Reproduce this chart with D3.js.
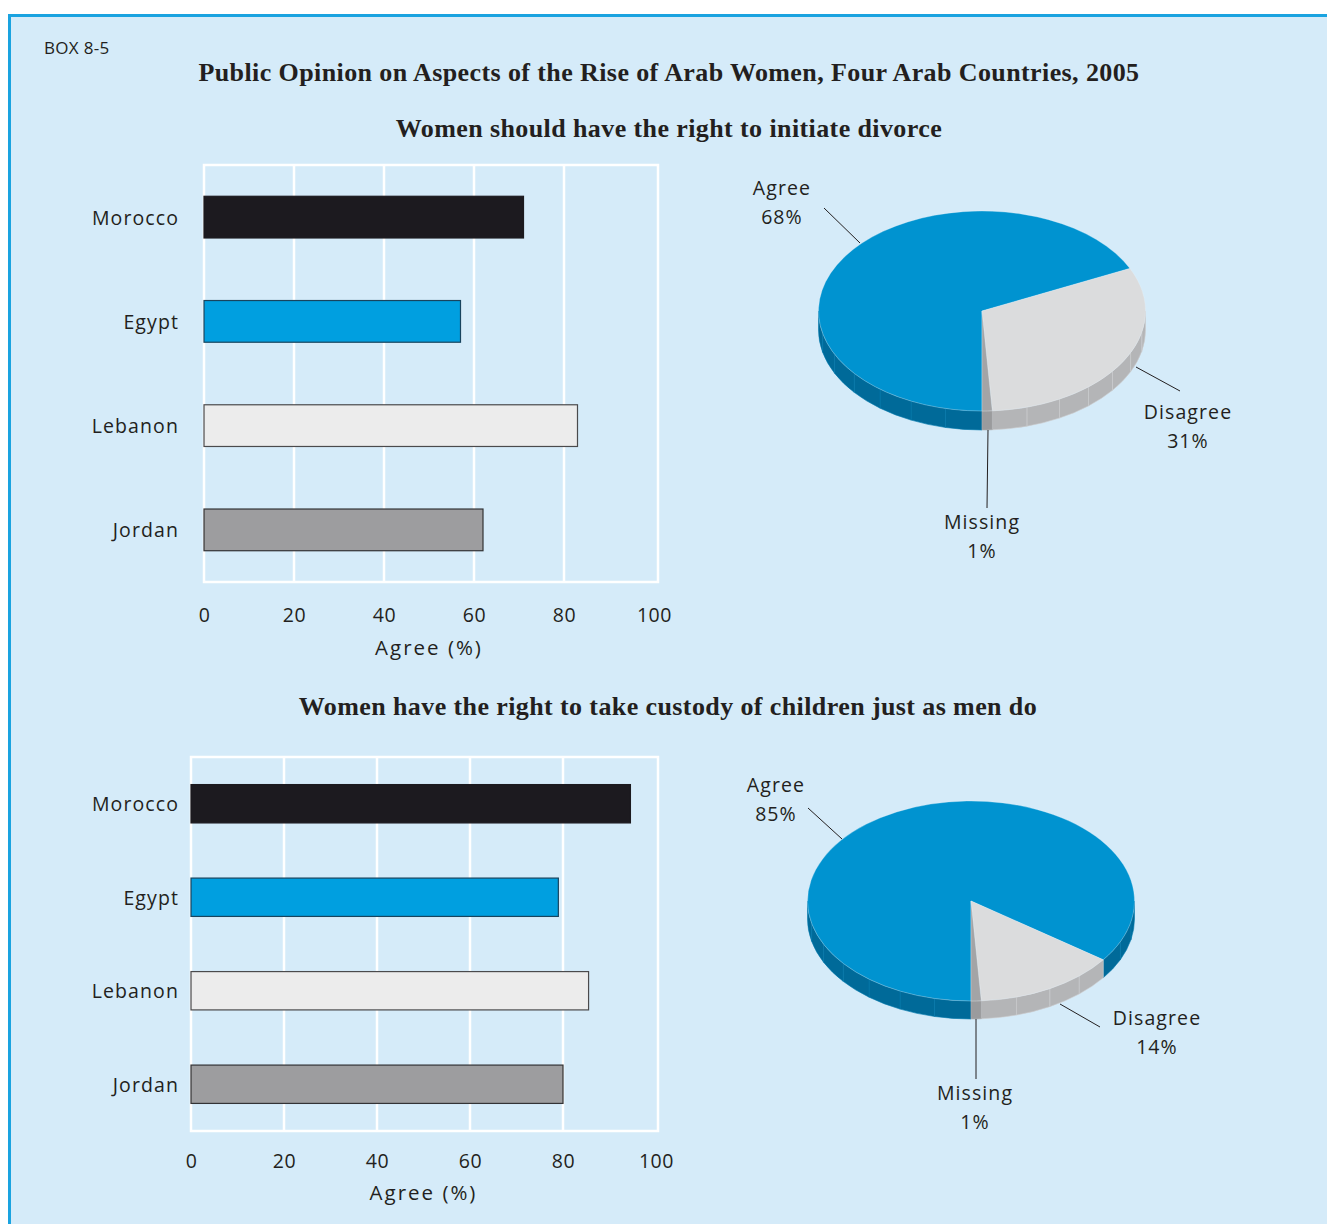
<!DOCTYPE html>
<html>
<head>
<meta charset="utf-8">
<script src="https://cdn.jsdelivr.net/npm/d3@7"></script>
<style>
  html, body { margin: 0; padding: 0; background: #ffffff; }
  svg { display: block; }
  .sans { font-family: "Open Sans", "Noto Sans", sans-serif; fill: #231f20; letter-spacing: 1.1px; }
  .serif { font-family: "Liberation Serif", "Times New Roman", serif; font-weight: bold; fill: #231f20; letter-spacing: 0.4px; }
</style>
</head>
<body>
<svg id="chart" width="1327" height="1224"></svg>
<script>
// ---- data ----
const countries = ["Morocco", "Egypt", "Lebanon", "Jordan"];
const divorceAgree = [71, 57, 83, 62];
const custodyAgree = [94.5, 79, 85.5, 80];
const xTicks = [0, 20, 40, 60, 80, 100];

const pieCategories = ["Agree", "Disagree", "Missing"];
const divorceShares = [68, 31, 1];
const custodyShares = [85, 14, 1];

const titleText = "Public Opinion on Aspects of the Rise of Arab Women, Four Arab Countries, 2005";
const subtitleDivorce = "Women should have the right to initiate divorce";
const subtitleCustody = "Women have the right to take custody of children just as men do";
const axisTitle = "Agree (%)";

// ---- styles ----
const barFill = ["#1c1a1f", "#009fe0", "#ececec", "#9d9d9f"];
const barStroke = ["#1c1a1f", "#18445e", "#4a4a4c", "#333335"];
const pieTop = ["#0093d0", "#dbdcdd", "#a3a4a6"];
const pieSide = ["#006a99", "#b4b5b7", "#9a9b9d"];

const svg = d3.select("#chart");

// panel
svg.append("rect").attr("x", 9.5).attr("y", 15.5).attr("width", 1330).attr("height", 1220)
  .attr("fill", "#d5ebf9").attr("stroke", "#1aa3e0").attr("stroke-width", 3);

svg.append("text").attr("class", "sans").attr("x", 44).attr("y", 47)
  .attr("dominant-baseline", "central").style("font-size", "17px")
  .style("letter-spacing", "0.3px").text("BOX 8-5");

svg.append("text").attr("class", "serif").attr("x", 669).attr("y", 72)
  .attr("text-anchor", "middle").attr("dominant-baseline", "central")
  .style("font-size", "26px").text(titleText);

svg.append("text").attr("class", "serif").attr("x", 669).attr("y", 128)
  .attr("text-anchor", "middle").attr("dominant-baseline", "central")
  .style("font-size", "26px").text(subtitleDivorce);

svg.append("text").attr("class", "serif").attr("x", 668).attr("y", 706)
  .attr("text-anchor", "middle").attr("dominant-baseline", "central")
  .style("font-size", "26px").text(subtitleCustody);

// ---- horizontal bar chart ----
function barChart(values, L) {
  const g = svg.append("g");
  const x = d3.scaleLinear().domain([0, 100]).range([L.x0, L.x1]);
  const y = d3.scaleBand().domain(countries).range([L.y0, L.y1])
    .paddingInner(L.padIn).paddingOuter(L.padOut);

  // white grid + frame
  g.append("rect").attr("x", x(0)).attr("y", L.y0)
    .attr("width", L.frameR - x(0)).attr("height", L.y1 - L.y0)
    .attr("fill", "none").attr("stroke", "#ffffff").attr("stroke-width", 2.5);
  g.selectAll("line.grid").data(xTicks.slice(1, -1)).join("line")
    .attr("x1", d => x(d)).attr("x2", d => x(d))
    .attr("y1", L.y0).attr("y2", L.y1)
    .attr("stroke", "#ffffff").attr("stroke-width", 2.5);

  g.selectAll("rect.bar").data(values).join("rect")
    .attr("x", x(0))
    .attr("y", (d, i) => y(countries[i]))
    .attr("width", d => x(d) - x(0))
    .attr("height", y.bandwidth())
    .attr("fill", (d, i) => barFill[i])
    .attr("stroke", (d, i) => barStroke[i]).attr("stroke-width", 1.2);

  // category labels
  g.selectAll("text.cat").data(countries).join("text")
    .attr("class", "sans")
    .attr("x", L.labelX).attr("y", d => y(d) + y.bandwidth() / 2)
    .attr("text-anchor", "end").attr("dominant-baseline", "central")
    .style("font-size", "19.5px").text(d => d);

  // x axis labels
  const axis = d3.axisBottom(x).tickValues(xTicks).tickSize(0).tickPadding(0);
  const ax = g.append("g").attr("transform", `translate(0,${L.tickY})`).call(axis);
  ax.select(".domain").remove();
  ax.selectAll("text").attr("class", "sans").attr("fill", "#231f20")
    .attr("dy", null).attr("y", 0).attr("dominant-baseline", "central")
    .style("font-size", "19.5px").style("font-family", "'Open Sans', sans-serif")
    .style("letter-spacing", "0.6px");

  g.append("text").attr("class", "sans")
    .attr("x", (L.x0 + L.x1) / 2).attr("y", L.titleY)
    .attr("text-anchor", "middle").attr("dominant-baseline", "central")
    .style("font-size", "20.5px").style("letter-spacing", "2px").text(axisTitle);
}

barChart(divorceAgree, {
  x0: 204, x1: 654, frameR: 658, y0: 165, y1: 582,
  padIn: 0.6, padOut: 0.3, labelX: 179, tickY: 614, titleY: 647
});
barChart(custodyAgree, {
  x0: 191, x1: 656, frameR: 658, y0: 757, y1: 1131,
  padIn: 0.59, padOut: 0.295, labelX: 179, tickY: 1160, titleY: 1192
});

// ---- 3D pie ----
function pie3D(shares, P) {
  const g = svg.append("g");
  const arcs = d3.pie().sort(null).startAngle(Math.PI).endAngle(3 * Math.PI)(shares);
  const pt = (a, dy = 0) => [P.cx + P.rx * Math.sin(a), P.cy - P.ry * Math.cos(a) + dy];
  const deg = Math.PI / 180;

  // side walls on the front half (90° .. 270°)
  const sides = g.append("g");
  arcs.forEach((a, i) => {
    for (let k = -1; k <= 1; k++) {
      const f0 = Math.PI / 2 + k * 2 * Math.PI, f1 = 1.5 * Math.PI + k * 2 * Math.PI;
      const b0 = Math.max(a.startAngle, f0), b1 = Math.min(a.endAngle, f1);
      if (b1 <= b0) continue;
      const n = Math.max(1, Math.round((b1 - b0) / (13 * deg)));
      for (let s = 0; s < n; s++) {
        const c0 = b0 + (b1 - b0) * s / n, c1 = b0 + (b1 - b0) * (s + 1) / n;
        const p0 = pt(c0), p1 = pt(c1), q1 = pt(c1, P.depth), q0 = pt(c0, P.depth);
        sides.append("path")
          .attr("d", `M${p0}A${P.rx},${P.ry} 0 0 1 ${p1}L${q1}A${P.rx},${P.ry} 0 0 0 ${q0}Z`)
          .attr("fill", pieSide[i])
          .attr("stroke", d3.color(pieSide[i]).brighter(0.35)).attr("stroke-width", 0.6);
      }
    }
  });

  // top faces
  g.selectAll("path.top").data(arcs).join("path")
    .attr("d", a => {
      const p0 = pt(a.startAngle), p1 = pt(a.endAngle);
      const large = a.endAngle - a.startAngle > Math.PI ? 1 : 0;
      return `M${P.cx},${P.cy}L${p0}A${P.rx},${P.ry} 0 ${large} 1 ${p1}Z`;
    })
    .attr("fill", (a, i) => pieTop[i])
    .attr("stroke", "#e8f2f8").attr("stroke-width", 0.5).attr("stroke-opacity", 0.6);

  // leader lines and labels
  P.labels.forEach((lb, i) => {
    g.append("line")
      .attr("x1", P.cx + lb.from[0]).attr("y1", P.cy + lb.from[1])
      .attr("x2", P.cx + lb.to[0]).attr("y2", P.cy + lb.to[1])
      .attr("stroke", "#231f20").attr("stroke-width", 1);
    const t = g.append("text").attr("class", "sans").attr("text-anchor", "middle")
      .style("font-size", "19.5px");
    t.append("tspan").attr("x", P.cx + lb.text[0]).attr("y", P.cy + lb.text[1])
      .attr("dominant-baseline", "central").text(pieCategories[i]);
    t.append("tspan").attr("x", P.cx + lb.text[0]).attr("y", P.cy + lb.text[1] + 29)
      .attr("dominant-baseline", "central").text(shares[i] + "%");
  });
}

pie3D(divorceShares, {
  cx: 982, cy: 311, rx: 163.5, ry: 100, depth: 19,
  labels: [
    { from: [-158, -103], to: [-122, -68], text: [-200, -124] },
    { from: [154, 56], to: [198, 80], text: [206, 100] },
    { from: [6, 119], to: [5, 197], text: [0, 210] }
  ]
});
pie3D(custodyShares, {
  cx: 971, cy: 901, rx: 163.5, ry: 100, depth: 18,
  labels: [
    { from: [-163, -93], to: [-129, -62], text: [-195, -117] },
    { from: [89, 103], to: [129, 126], text: [186, 116] },
    { from: [5, 118], to: [5, 178], text: [4, 191] }
  ]
});
</script>
</body>
</html>
